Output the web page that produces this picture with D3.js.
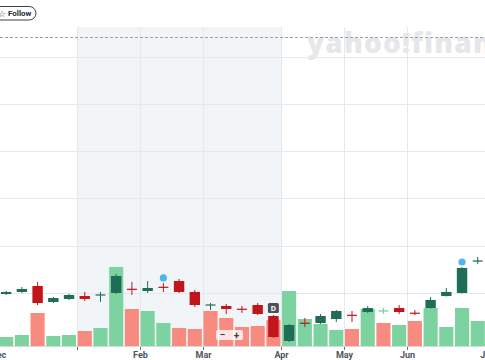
<!DOCTYPE html>
<html lang="en">
<head>
    <meta charset="UTF-8">
    <title>Weekly chart</title>
    <script src="https://cdn.jsdelivr.net/npm/d3@7/dist/d3.min.js"></script>
    <style>
        body {
            margin: 0;
            background: #fff;
            overflow: hidden;
        }

        svg {
            display: block;
            font-family: Roboto, "Noto Sans", sans-serif;
        }

        .grid line {
            stroke: #e6e8eb;
        }
    </style>
</head>
<body>

<svg id="svg" width="485" height="360"></svg>

<script>
    // week start dates (one candle / volume bar per week)
    var weeks = ["2024-12-02", "2024-12-09", "2024-12-16", "2024-12-23", "2024-12-30",
        "2025-01-06", "2025-01-13", "2025-01-20", "2025-01-27",
        "2025-02-03", "2025-02-10", "2025-02-17", "2025-02-24",
        "2025-03-03", "2025-03-10", "2025-03-17", "2025-03-24", "2025-03-31",
        "2025-04-07", "2025-04-14", "2025-04-21", "2025-04-28",
        "2025-05-05", "2025-05-12", "2025-05-19", "2025-05-26",
        "2025-06-02", "2025-06-09", "2025-06-16", "2025-06-23", "2025-06-30"];

    var open = [19.89, 20.11, 20.74, 19.05, 19.37, 19.68, 19.74, 20.00, 20.42, 20.21, 20.63,
        21.27, 20.11, 18.70, 18.63, 18.31, 18.73, 17.57, 14.93, 16.83, 16.83, 17.25, 17.67,
        17.99, 18.07, 18.41, 17.89, 18.41, 19.68, 20.00, 23.35];
    var high = [20.21, 20.63, 21.16, 19.58, 19.89, 20.11, 20.11, 22.01, 21.16, 21.27, 21.06,
        21.48, 20.32, 18.94, 18.84, 18.63, 18.94, 17.67, 16.72, 17.36, 17.78, 18.20, 18.10,
        18.63, 18.41, 18.73, 18.20, 19.58, 20.53, 22.75, 23.81];
    var low = [19.79, 20.00, 18.73, 18.94, 19.26, 19.15, 19.05, 19.89, 19.79, 20.00, 20.11,
        20.00, 18.52, 18.20, 17.78, 17.89, 17.67, 15.24, 14.82, 16.41, 16.72, 16.93, 16.93,
        17.89, 17.78, 17.78, 17.67, 18.36, 19.63, 19.95, 23.07];
    var close = [20.11, 20.42, 18.94, 19.47, 19.79, 19.37, 19.79, 21.80, 20.39, 20.53, 20.60,
        20.11, 18.73, 18.73, 18.31, 18.28, 17.78, 15.35, 16.62, 16.80, 17.57, 18.10, 17.64,
        18.41, 18.10, 17.99, 17.86, 19.26, 20.11, 22.64, 23.38];

    // volume in millions, and whether the week closed up
    var volume = [0.9, 1.1, 3.3, 1.0, 1.1, 1.5, 1.8, 7.9, 3.7, 3.5, 2.3, 1.8, 1.7, 3.5, 2.8,
        1.9, 2.0, 2.6, 5.5, 2.7, 2.2, 1.6, 1.7, 3.7, 2.3, 2.1, 2.5, 3.8, 1.9, 3.8, 2.5];
    var volumeUp = [1, 1, 0, 1, 1, 0, 1, 1, 0, 1, 1, 0, 0, 0, 0, 0, 0, 0, 1, 1, 1, 1, 0, 1,
        0, 1, 0, 1, 1, 1, 1];

    var priceGrid = [20, 25, 30, 35, 40, 45];
    var prevClose = 47.06;

    var tickLabels = ["Dec", "", "Feb", "Mar", "Apr", "May", "Jun", "Jul"];
    var tickWeeks = ["2024-12-02", "2025-01-06", "2025-02-03", "2025-03-03", "2025-04-07",
        "2025-05-05", "2025-06-02", "2025-07-07"];

    var shadeFrom = "2025-01-06", shadeTo = "2025-04-07";
    var eventWeeks = ["2025-02-10", "2025-06-23"];
    var dividendWeek = "2025-03-31";

    var W = 485, H = 360;
    var plotTop = 27, volBase = 346;
    var step = 15.72, x0 = -1.7;

    var x = d3.scaleBand()
        .domain(weeks)
        .range([x0, x0 + weeks.length * step])
        .paddingInner(0);
    var y = d3.scaleLinear().domain([20, 45]).range([293, 56.5]);
    var yv = d3.scaleLinear().domain([0, 10]).range([volBase, volBase - 100]);

    var green = "#1d6d57", red = "#c2141b";
    var volGreen = "#7dd3a0", volRed = "#f78b7f";

    function xPos(w) {
        return weeks.indexOf(w) >= 0 ? x(w) : x.range()[1];
    }

    var svg = d3.select("#svg");

    // shaded period
    svg.append("rect")
        .attr("x", xPos(shadeFrom)).attr("y", plotTop)
        .attr("width", xPos(shadeTo) - xPos(shadeFrom))
        .attr("height", volBase - plotTop)
        .attr("fill", "#f2f5f8");

    // watermark
    svg.append("text")
        .attr("x", 307).attr("y", 53)
        .attr("font-family", "'Open Sans', sans-serif")
        .attr("font-weight", 800)
        .attr("font-size", 28)
        .attr("letter-spacing", 1.2)
        .attr("fill", "#e6e7ea")
        .text("yahoo!finance");

    // grid
    var grid = svg.append("g").attr("class", "grid");
    grid.selectAll("line.h")
        .data(priceGrid)
        .enter().append("line")
        .attr("x1", 0).attr("x2", W)
        .attr("y1", function (d) { return Math.round(y(d)) + 0.5; })
        .attr("y2", function (d) { return Math.round(y(d)) + 0.5; });
    grid.selectAll("line.v")
        .data(tickWeeks)
        .enter().append("line")
        .attr("x1", function (d) { return Math.round(xPos(d)) + 0.5; })
        .attr("x2", function (d) { return Math.round(xPos(d)) + 0.5; })
        .attr("y1", plotTop).attr("y2", volBase);

    // previous close
    svg.append("line")
        .attr("x1", 0).attr("x2", W)
        .attr("y1", Math.round(y(prevClose)) + 0.5)
        .attr("y2", Math.round(y(prevClose)) + 0.5)
        .attr("stroke", "#9aa0a6")
        .attr("stroke-dasharray", "3,2");

    // volume
    svg.append("g").selectAll("rect")
        .data(weeks)
        .enter().append("rect")
        .attr("x", function (d) { return x(d) + 0.8; })
        .attr("width", x.bandwidth() - 1.6)
        .attr("y", function (d, i) { return yv(volume[i]); })
        .attr("height", function (d, i) { return volBase - yv(volume[i]); })
        .attr("fill", function (d, i) { return volumeUp[i] ? volGreen : volRed; });

    // candles
    var candles = svg.append("g").selectAll("g")
        .data(weeks)
        .enter().append("g")
        .attr("transform", function (d) { return "translate(" + (x(d) + x.bandwidth() / 2) + ",0)"; });

    function isDoji(i) {
        return Math.abs(y(open[i]) - y(close[i])) < 1.5;
    }

    function colour(i) {
        if (i === 24) return "#7cc79a";
        return close[i] >= open[i] ? green : red;
    }

    candles.append("line")
        .attr("y1", function (d, i) { return y(high[i]); })
        .attr("y2", function (d, i) { return y(low[i]); })
        .attr("stroke", function (d, i) { return colour(i); })
        .attr("stroke-width", 1);

    candles.append("rect")
        .attr("x", function (d, i) { return isDoji(i) ? -5 : -5.2; })
        .attr("width", function (d, i) { return isDoji(i) ? 10 : 10.4; })
        .attr("y", function (d, i) {
            return isDoji(i) ? y(close[i]) - 0.6 : y(Math.max(open[i], close[i]));
        })
        .attr("height", function (d, i) {
            return isDoji(i) ? 1.2 : Math.abs(y(open[i]) - y(close[i]));
        })
        .attr("fill", function (d, i) { return colour(i); });

    // events
    svg.selectAll("circle.ev")
        .data(eventWeeks)
        .enter().append("circle")
        .attr("cx", function (d) { return x(d) + x.bandwidth() / 2; })
        .attr("cy", function (d) { return y(high[weeks.indexOf(d)]) - 5; })
        .attr("r", 3.6)
        .attr("fill", "#50b5ea");

    var dvX = x(dividendWeek) + x.bandwidth() / 2;
    var dvY = y(high[weeks.indexOf(dividendWeek)]) - 2;
    svg.append("rect")
        .attr("x", dvX - 5.5).attr("y", dvY - 10)
        .attr("width", 11).attr("height", 10)
        .attr("rx", 1.5)
        .attr("fill", "#4b5258");
    svg.append("text")
        .attr("x", dvX).attr("y", dvY - 1.8)
        .attr("text-anchor", "middle")
        .attr("font-size", 8).attr("font-weight", "bold")
        .attr("fill", "#fff")
        .text("D");

    // zoom control
    var zc = svg.append("g").attr("transform", "translate(216,330)");
    zc.append("rect")
        .attr("width", 27).attr("height", 10).attr("rx", 2)
        .attr("fill", "#fff").attr("fill-opacity", 0.78);
    zc.append("text").attr("x", 6.5).attr("y", 8.3)
        .attr("text-anchor", "middle").attr("font-size", 10).attr("font-weight", "bold")
        .attr("fill", "#3c4146").text("\u2212");
    zc.append("text").attr("x", 20.5).attr("y", 8.6)
        .attr("text-anchor", "middle").attr("font-size", 10).attr("font-weight", "bold")
        .attr("fill", "#3c4146").text("+");

    // x axis
    svg.append("line")
        .attr("x1", 0).attr("x2", W)
        .attr("y1", volBase + 0.5).attr("y2", volBase + 0.5)
        .attr("stroke", "#d5d8dc");
    var ax = svg.append("g").selectAll("g")
        .data(tickWeeks)
        .enter().append("g")
        .attr("transform", function (d) { return "translate(" + (Math.round(xPos(d)) + 0.5) + "," + volBase + ")"; });
    ax.append("line").attr("y1", 1).attr("y2", 4).attr("stroke", "#6b7379");
    ax.append("text")
        .attr("y", 11.5)
        .attr("text-anchor", "middle")
        .attr("font-size", 9).attr("font-weight", "bold")
        .attr("fill", "#4d555c")
        .text(function (d, i) { return tickLabels[i]; });

    // follow button
    var fb = svg.append("g");
    fb.append("rect")
        .attr("x", -30).attr("y", 6.5).attr("width", 66).attr("height", 13.5)
        .attr("rx", 6.75)
        .attr("fill", "#fff").attr("stroke", "#3c4146");
    fb.append("text").attr("x", -2).attr("y", 16.5)
        .attr("font-size", 9).attr("fill", "#3c4146").text("\u2606");
    fb.append("text").attr("x", 8).attr("y", 16.3)
        .attr("font-size", 8).attr("font-weight", "bold")
        .attr("fill", "#232a31").text("Follow");
</script>
</body>
</html>
